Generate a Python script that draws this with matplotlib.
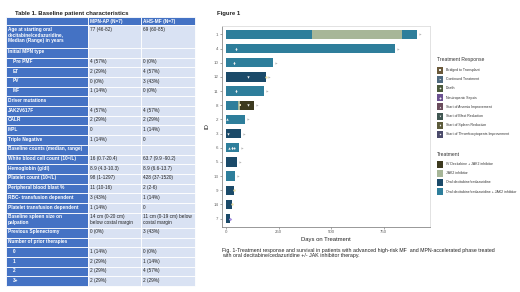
import matplotlib.pyplot as plt
from matplotlib.patches import Rectangle

plt.rcParams['font.family'] = ['Liberation Sans', 'DejaVu Sans']

# ---- Table 1 data ----
tbl_labels = ['', 'Age at starting oral\ndecitabine/cedazuridine,\nMedian (Range) in years',
              'Initial MPN type', 'Pre PMF', 'ET', 'PV', 'MF',
              'Driver mutations', 'JAK2V617F', 'CALR', 'MPL', 'Triple Negative',
              'Baseline counts (median, range)', 'White blood cell count (10\u2079/L)',
              'Hemoglobin (g/dl)', 'Platelet count (10\u2079/L)', 'Peripheral blood blast %',
              'RBC- transfusion dependent', 'Platelet transfusion dependent',
              'Baseline spleen size on\npalpation', 'Previous Splenectomy',
              'Number of prior therapies', '0', '1', '2', '3+']
mpn_ap = ['MPN-AP (N=7)', '77 (46-82)', '', '4 (57%)', '2 (29%)', '0 (0%)', '1 (14%)',
          '', '4 (57%)', '2 (29%)', '0', '1 (14%)', '', '16 (0.7-20.4)', '8.9 (4.3-10.3)',
          '98 (1-1297)', '11 (10-16)', '3 (43%)', '1 (14%)',
          '14 cm (0-20 cm)\nbelow costal margin', '0 (0%)', '', '1 (14%)', '2 (29%)',
          '2 (29%)', '2 (29%)']
ahs_mf = ['AHS-MF (N=7)', '69 (60-85)', '', '0 (0%)', '4 (57%)', '3 (43%)', '0 (0%)',
          '', '4 (57%)', '2 (29%)', '1 (14%)', '0', '', '63.7 (9.9 -90.2)', '8.9 (6.6-13.7)',
          '428 (37-1520)', '2 (2-6)', '1 (14%)', '0',
          '11 cm (0-19 cm) below\ncostal margin', '3 (43%)', '', '0 (0%)', '1 (14%)',
          '4 (57%)', '2 (29%)']
indented = ['Pre PMF', 'ET', 'PV', 'MF', '0', '1', '2', '3+']

# ---- Figure 1 swimmer data ----
ids = ['1', '4', '10', '12', '11', '8', '2', '3', '6', '5', '13', '9', '14', '7']
seg_id = ['1', '1', '1', '4', '10', '12', '11', '8', '8', '8', '2', '3', '6', '5', '13', '9', '14', '7']
seg_start = [0, 410, 838, 0, 0, 0, 0, 0, 57, 68, 0, 0, 0, 0, 0, 0, 0, 0]
seg_end = [410, 838, 906, 802, 222, 189, 179, 57, 68, 132, 90, 71, 61, 52, 42, 38, 28, 19]
seg_treat = ['Oral decitabine/cedazuridine + JAK2 inhibitor', 'JAK2 inhibitor',
             'Oral decitabine/cedazuridine + JAK2 inhibitor',
             'Oral decitabine/cedazuridine + JAK2 inhibitor',
             'Oral decitabine/cedazuridine + JAK2 inhibitor',
             'Oral decitabine/cedazuridine',
             'Oral decitabine/cedazuridine + JAK2 inhibitor',
             'Oral decitabine/cedazuridine + JAK2 inhibitor', 'JAK2 inhibitor',
             'IV Decitabine + JAK2 inhibitor',
             'Oral decitabine/cedazuridine + JAK2 inhibitor',
             'Oral decitabine/cedazuridine',
             'Oral decitabine/cedazuridine + JAK2 inhibitor',
             'Oral decitabine/cedazuridine',
             'Oral decitabine/cedazuridine + JAK2 inhibitor',
             'Oral decitabine/cedazuridine', 'Oral decitabine/cedazuridine',
             'Oral decitabine/cedazuridine']

ev_id = ['1', '4', '10', '12', '11', '8', '2', '3', '6', '5', '13',
         '4', '10', '12', '11', '8', '8', '2', '3', '6', '6', '6',
         '12', '9', '14', '7']
ev_day = [922, 818, 238, 205, 195, 148, 106, 87, 77, 68, 58,
          45, 38, 103, 47, 64, 105, 5, 10, 14, 28, 38,
          190, 39, 29, 20]
ev_type = ['Continued Treatment'] * 11 + [
    'Start of Spleen Reduction', 'Start of Spleen Reduction', 'Start of Blast Reduction',
    'Start of Spleen Reduction', 'Bridged to Transplant', 'Start of Blast Reduction',
    'Start of Anemia Improvement', 'Start of Blast Reduction', 'Start of Anemia Improvement',
    'Start of Spleen Reduction', 'Start of Thrombocytopenia Improvement',
    'Death', 'Death', 'Death', 'Neutropenic Sepsis']

treat_names = ['IV Decitabine + JAK2 inhibitor', 'JAK2 inhibitor',
               'Oral decitabine/cedazuridine', 'Oral decitabine/cedazuridine + JAK2 inhibitor']
treat_colors = ['#3d3a1f', '#a7b698', '#1b4a69', '#2e7e9b']
resp_names = ['Bridged to Transplant', 'Continued Treatment', 'Death', 'Neutropenic Sepsis',
              'Start of Anemia Improvement', 'Start of Blast Reduction',
              'Start of Spleen Reduction', 'Start of Thrombocytopenia Improvement']
resp_key = ['#6b5a3b', '#4f6a7f', '#4b5a3b', '#6b5190', '#6a4c5c', '#3f5651', '#5c5b3a', '#4b4b6b']
resp_mark = ['#e9dcb0', '#b8b8b8', '#efe2a8', '#a58fe0', '#f2f2f2', '#f2f2f2', '#f2f2f2', '#f2f2f2']
resp_sym = ['s', '>', 'o', 'D', '^', 'v', 'd', 'p']

fig = plt.figure(figsize=(5.2, 2.92), dpi=100)
bg = fig.add_axes([0, 0, 1, 1])
bg.set_xlim(0, 520)
bg.set_ylim(292, 0)
bg.axis('off')

# ---- draw table ----
blue = '#4472c4'
light = '#d9e2f3'
cols = [6, 88, 141, 195]
bg.text(15, 13, 'Table 1. Baseline patient characteristics', fontsize=4.3,
        fontweight='bold', va='center', color='#222222')
y = 17
for i, lab in enumerate(tbl_labels):
    nlines = max(lab.count('\n'), mpn_ap[i].count('\n'), ahs_mf[i].count('\n')) + 1
    h = 8 if i == 0 else (9.7 if nlines == 1 else 7.6 * nlines)
    for c in range(3):
        fc = blue if (i == 0 or c == 0) else light
        bg.add_patch(Rectangle((cols[c], y), cols[c + 1] - cols[c], h,
                               facecolor=fc, edgecolor='white', lw=0.6))
    x0 = cols[0] + (7 if lab in indented else 2)
    bg.text(x0, y + 1.6, lab, fontsize=3.4, fontweight='bold', color='white',
            va='top', ha='left', linespacing=1.15)
    tc = 'white' if i == 0 else '#222222'
    fw = 'bold' if i == 0 else 'normal'
    bg.text(cols[1] + 2, y + 1.6, mpn_ap[i], fontsize=3.4, color=tc, fontweight=fw,
            va='top', ha='left', linespacing=1.15)
    bg.text(cols[2] + 2, y + 1.6, ahs_mf[i], fontsize=3.4, color=tc, fontweight=fw,
            va='top', ha='left', linespacing=1.15)
    y += h

# ---- swimmer plot ----
ax = fig.add_axes([222 / 520, 1 - 227 / 292, 208 / 520, 201 / 292])
ypos = {pid: len(ids) - 1 - k for k, pid in enumerate(ids)}
for pid, s, e, t in zip(seg_id, seg_start, seg_end, seg_treat):
    ax.barh(ypos[pid], e - s, left=s, height=0.66,
            color=treat_colors[treat_names.index(t)], linewidth=0)
for pid, d, t in zip(ev_id, ev_day, ev_type):
    k = resp_names.index(t)
    ax.scatter(d, ypos[pid], marker=resp_sym[k], s=3 if t != 'Continued Treatment' else 2.5,
               color=resp_mark[k], linewidths=0, zorder=3)

ax.set_xlim(-20, 970)
ax.set_ylim(-0.6, len(ids) - 0.4)
ax.set_yticks(range(len(ids)))
ax.set_yticklabels(ids[::-1])
ax.set_xticks([0, 250, 500, 750])
ax.tick_params(labelsize=3.2, colors='#666666', length=1.5, width=0.4, pad=1)
for sp in ['top', 'right']:
    ax.spines[sp].set_color('#dddddd')
for sp in ['left', 'bottom']:
    ax.spines[sp].set_color('#888888')
for sp in ax.spines.values():
    sp.set_linewidth(0.6)
ax.set_xlabel('Days on Treatment', fontsize=4.2, color='#222222', labelpad=2)
ax.set_ylabel('ID', fontsize=4.2, color='#222222', labelpad=3)

bg.text(217, 14, 'Figure 1', fontsize=4.3, fontweight='bold', va='center', color='#222222')

# ---- legends ----
bg.text(437, 59, 'Treatment Response', fontsize=3.6, va='center', color='#333333')
for k, name in enumerate(resp_names):
    yy = 70 + k * 9.2
    bg.add_patch(Rectangle((437, yy - 3.5), 6, 7, facecolor=resp_key[k], edgecolor='none'))
    bg.scatter(440, yy, marker=resp_sym[k], s=1.5, color='#f0f0f0', linewidths=0)
    bg.text(445.5, yy, name, fontsize=2.5, va='center', color='#333333')
bg.text(437, 154, 'Treatment', fontsize=3.6, va='center', color='#333333')
for k, name in enumerate(treat_names):
    yy = 164 + k * 9.2
    bg.add_patch(Rectangle((437, yy - 3.5), 6, 7, facecolor=treat_colors[k], edgecolor='none'))
    bg.text(445.5, yy, name, fontsize=2.5, va='center', color='#333333')

bg.text(222, 253, 'Fig. 1-Treatment response and survival in patients with advanced high-risk MF  and '
        'MPN-accelerated phase treated\nwith oral decitabine/cedazuridine +/- JAK inhibitor therapy.',
        fontsize=3.8, va='center', ha='left', color='#222222', linespacing=1.2)

fig.savefig('out.png', dpi=100)
